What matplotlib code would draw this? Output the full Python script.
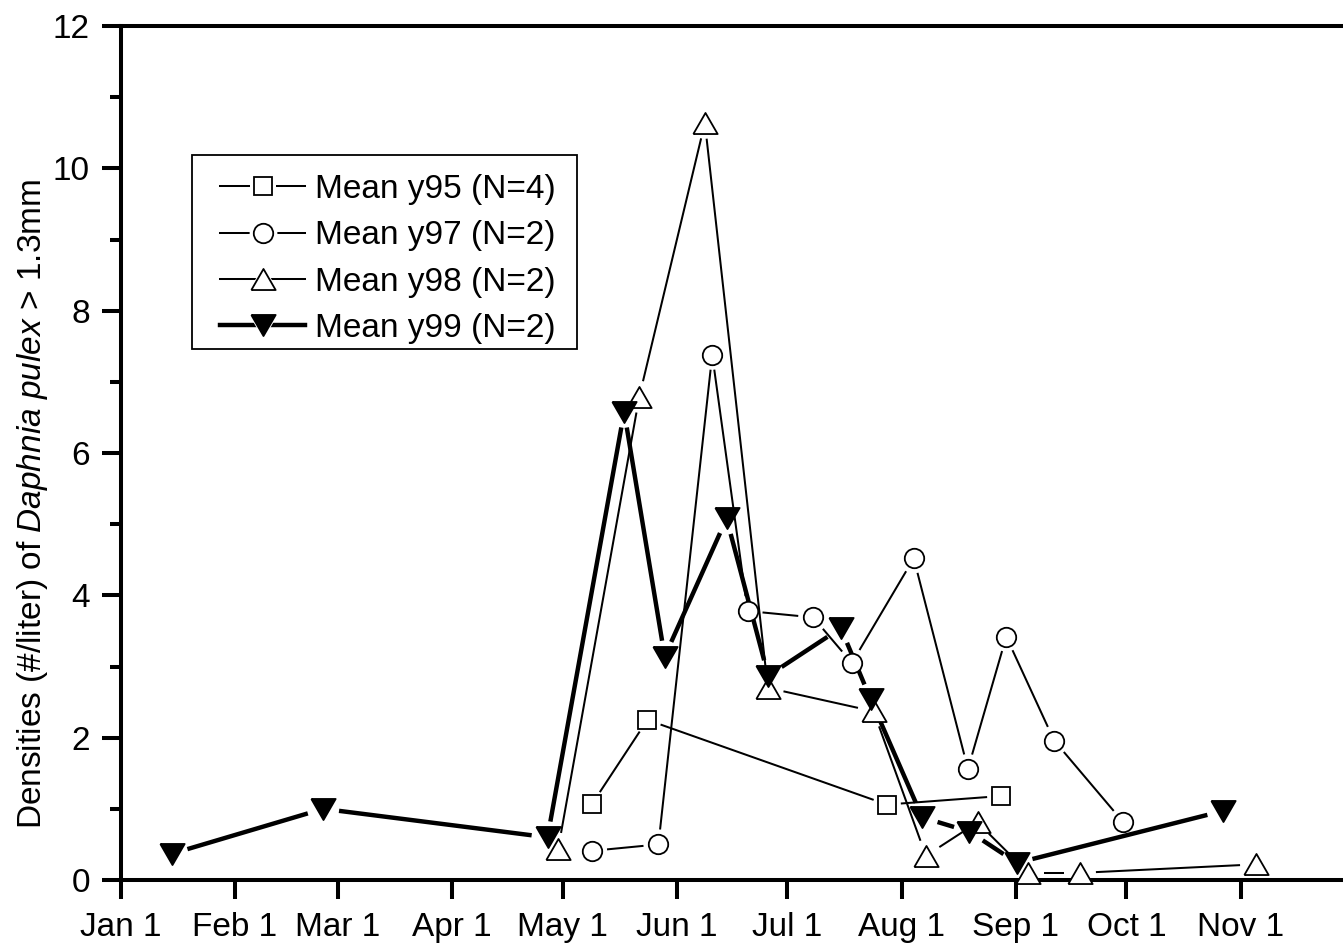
import numpy as np
import pandas as pd
import matplotlib
matplotlib.use('Agg')
import matplotlib.pyplot as plt
from matplotlib.legend_handler import HandlerTuple
from matplotlib.lines import Line2D
from matplotlib.patches import Rectangle

plt.rcParams['font.family'] = ['Liberation Sans', 'DejaVu Sans']
plt.rcParams['mathtext.fontset'] = 'custom'
plt.rcParams['mathtext.it'] = 'Liberation Sans:italic'
plt.rcParams['mathtext.rm'] = 'Liberation Sans'

# day of year (0 = Jan 1) and mean densities
y95_day = [128, 143, 208, 239]
y95_val = [1.07, 2.25, 1.06, 1.18]

y97_day = [128, 146, 160.6, 170.2, 188, 198.5, 215.3, 230, 240.4, 253.4, 272.2]
y97_val = [0.41, 0.50, 7.38, 3.78, 3.69, 3.05, 4.52, 1.56, 3.42, 1.96, 0.81]

y98_day = [118.8, 140.8, 158.6, 175.7, 204.4, 218.6, 232.6, 246.4, 260.4, 308.2]
y98_val = [0.44, 6.79, 10.64, 2.70, 2.37, 0.34, 0.81, 0.10, 0.10, 0.22]

y99_day = [14, 55, 115.9, 136.7, 147.7, 164.5, 175.8, 195.5, 203.6, 217.6, 230.4, 243.3, 299.2]
y99_val = [0.37, 1.00, 0.60, 6.58, 3.14, 5.08, 2.87, 3.54, 2.54, 0.88, 0.68, 0.24, 0.97]

labels = ['Mean y95 (N=4)', 'Mean y97 (N=2)', 'Mean y98 (N=2)', 'Mean y99 (N=2)']

months = pd.date_range('2001-01-01', '2001-11-01', freq='MS')
month_pos = list(months.dayofyear - 1)
month_lab = [m.strftime('%b') + ' 1' for m in months]

# bbox-centred triangles (equilateral)
tri_up = [(-1, -0.866), (1, -0.866), (0, 0.866), (-1, -0.866)]
tri_dn = [(-1, 0.866), (1, 0.866), (0, -0.866), (-1, 0.866)]

FS = 24
W, H = 1343, 948
fig = plt.figure(figsize=(W/100, H/100), dpi=100)
ax = fig.add_axes([120.5/W, 68/H, 1 - 120.5/W, 854/H])
ax.set_xlim(0, 331.8)
ax.set_ylim(0, 12)

def gapped(x, y, gap, lw, z):
    # draw line segments that stop short of each marker (Origin style)
    pts = ax.transData.transform(np.column_stack([x, y]))
    for p0, p1 in zip(pts[:-1], pts[1:]):
        d = p1 - p0
        L = np.hypot(*d)
        if L <= 2*gap:
            continue
        u = d / L
        seg = ax.transData.inverted().transform(np.array([p0 + u*gap, p1 - u*gap]))
        ax.plot(seg[:, 0], seg[:, 1], color='black', lw=lw, zorder=z, clip_on=False,
                solid_capstyle='butt')

series = [
    (y95_day, y95_val, 's', 12.5, 'white', 1.0, 14),
    (y97_day, y97_val, 'o', 14.0, 'white', 1.0, 15),
    (y98_day, y98_val, tri_up, 17.5, 'white', 1.0, 16),
    (y99_day, y99_val, tri_dn, 17.5, 'black', 2.2, 16),
]

handles = []
for i, (xd, yd, mk, ms, fc, lw, gap) in enumerate(series):
    gapped(xd, yd, gap, lw*1.45, 2 + i)
    ax.plot(xd, yd, ls='none', marker=mk, ms=ms, mfc=fc, mec='black', mew=1.3,
            zorder=6 + i, clip_on=False)
    h_line = Line2D([], [], color='black', lw=lw*1.45)
    h_halo = Line2D([], [], ls='none', marker=mk, ms=ms + 6, mfc='white', mec='white', mew=0)
    h_mark = Line2D([], [], ls='none', marker=mk, ms=ms, mfc=fc, mec='black', mew=1.3)
    handles.append((h_line, h_halo, h_mark))

leg = fig.legend(handles, labels, handler_map={tuple: HandlerTuple(ndivide=1, pad=0)},
                 loc='upper left', bbox_to_anchor=(220/W, 1 - 174/H), borderaxespad=0,
                 fontsize=FS, handlelength=2.55, handletextpad=0.3, labelspacing=0.46,
                 borderpad=0, frameon=False)
# legend frame: wider side padding than top/bottom
fig.patches.append(Rectangle((192/W, 1 - 349/H), 385/W, 194/H, transform=fig.transFigure,
                             fill=False, ec='black', lw=1.3, zorder=20))

for s in ['left', 'bottom', 'top']:
    ax.spines[s].set_linewidth(2.9)
ax.spines['right'].set_visible(False)

ax.set_xticks(month_pos)
ax.set_xticklabels(month_lab)
ax.set_yticks(np.arange(0, 13, 2))
ax.set_yticks(np.arange(1, 12, 2), minor=True)
ax.tick_params(axis='both', which='major', direction='out', length=14, width=2.9,
               labelsize=FS)
ax.tick_params(axis='y', which='minor', direction='out', length=8, width=2.9)
ax.tick_params(axis='x', pad=9)
ax.tick_params(axis='y', pad=8)
ax.set_ylabel(r'Densities (#/liter) of $\it{Daphnia\ pulex}$ > 1.3mm', fontsize=FS)
ax.yaxis.set_label_coords(-0.058, 0.44)

fig.savefig('out.png', dpi=100)
